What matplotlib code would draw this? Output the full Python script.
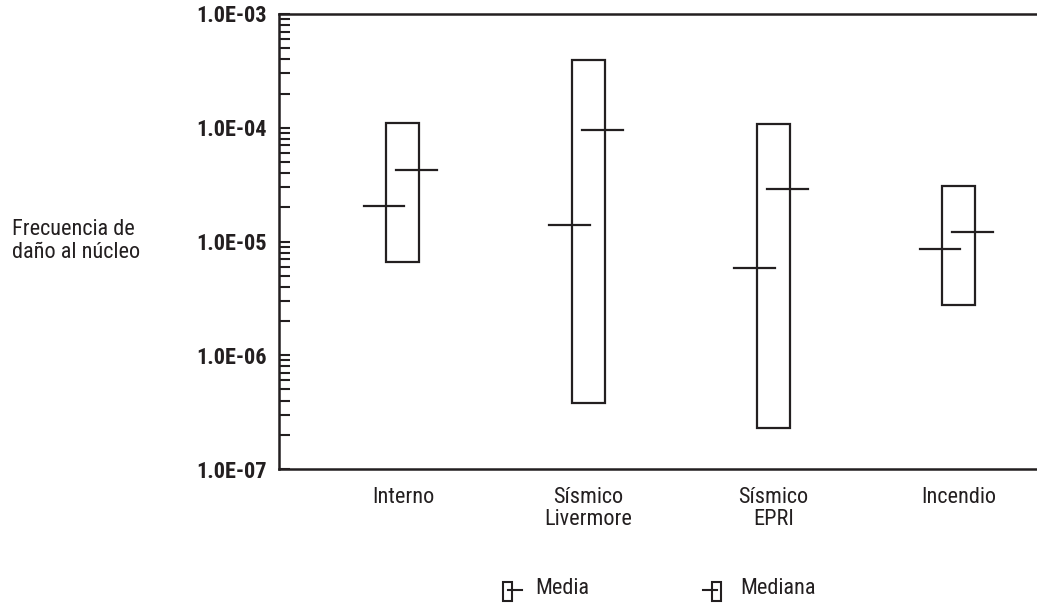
import numpy as np
import matplotlib
matplotlib.use("Agg")
import matplotlib.pyplot as plt
from matplotlib import font_manager
from matplotlib.patches import Rectangle
from matplotlib.lines import Line2D
from matplotlib.ticker import LogLocator, NullFormatter, FixedLocator

# data
categorias = ["Interno", "Sísmico\nLivermore", "Sísmico\nEPRI", "Incendio"]
limite_sup = [1.09e-4, 3.94e-4, 1.08e-4, 3.08e-5]
limite_inf = [6.6e-6, 3.78e-7, 2.28e-7, 2.77e-6]
media = [2.05e-5, 1.41e-5, 5.81e-6, 8.54e-6]
mediana = [4.28e-5, 9.55e-5, 2.91e-5, 1.21e-5]
yticks = [1e-7, 1e-6, 1e-5, 1e-4, 1e-3]
ytick_labels = ["1.0E-07", "1.0E-06", "1.0E-05", "1.0E-04", "1.0E-03"]

# condensed grotesque if there is one, else plain sans
names = {f.name for f in font_manager.fontManager.ttflist}
fam = "Liberation Sans"
for cand in ["Roboto Condensed", "Archivo Narrow", "Liberation Sans Narrow", "Arial Narrow"]:
    if cand in names:
        fam = cand
        break
plt.rcParams["font.family"] = [fam, "DejaVu Sans"]
lc = "#231f20"
fs = 16 if fam != "Liberation Sans" else 13.5
fw = "normal"

fig = plt.figure(figsize=(10.37, 6.05), dpi=100)
ax = fig.add_axes([279/1037, 136/605, 1 - 279/1037, 455/605])

ancho = 0.178
for i in range(len(categorias)):
    x0 = i - ancho/2
    ax.add_patch(Rectangle((x0, limite_inf[i]), ancho, limite_sup[i] - limite_inf[i],
                           fill=False, lw=1.6, ec=lc))
    ax.plot([x0 - 0.124, x0 + 0.097], [media[i], media[i]], color=lc, lw=1.6)
    ax.plot([x0 + ancho - 0.124, x0 + ancho + 0.097], [mediana[i], mediana[i]],
            color=lc, lw=1.6)

ax.set_yscale("log")
ax.set_ylim(1e-7, 1e-3)
ax.set_xlim(-0.669, 3.421)
ax.yaxis.set_major_locator(FixedLocator(yticks))
ax.set_yticklabels(ytick_labels, fontsize=fs, fontweight=800, color=lc)
ax.yaxis.set_minor_locator(LogLocator(base=10, subs=np.arange(2, 10)))
ax.yaxis.set_minor_formatter(NullFormatter())
ax.tick_params(axis="y", which="both", direction="in", length=8, width=1.5,
               color=lc, pad=8.5)
ax.set_xticks(range(len(categorias)))
ax.set_xticklabels(categorias, fontsize=fs, fontweight=fw, color=lc, va="top",
                   linespacing=1.05)
ax.tick_params(axis="x", length=0, pad=13)

ax.spines["right"].set_visible(False)
for s in ["left", "top", "bottom"]:
    ax.spines[s].set_linewidth(1.8)
    ax.spines[s].set_color(lc)

fig.text(12/1037, 1 - 241/605, "Frecuencia de\ndaño al núcleo", fontsize=fs,
         fontweight=fw, ha="left", va="center", color=lc, linespacing=1.1)

# legend glyphs
def px(x, y):
    return x/1037, 1 - y/605

bx, by = px(503, 601)
fig.add_artist(Rectangle((bx, by), 9/1037, 19/605, fill=False, lw=1.5, ec=lc,
                         transform=fig.transFigure))
fig.add_artist(Line2D([508/1037, 522/1037], [1 - 590/605] * 2, lw=1.5, color=lc,
                      transform=fig.transFigure))
fig.text(535/1037, 1 - 589/605, "Media", fontsize=fs, fontweight=fw,
         ha="left", va="center", color=lc)

bx, by = px(712, 601)
fig.add_artist(Rectangle((bx, by), 9/1037, 19/605, fill=False, lw=1.5, ec=lc,
                         transform=fig.transFigure))
fig.add_artist(Line2D([703/1037, 717/1037], [1 - 590/605] * 2, lw=1.5, color=lc,
                      transform=fig.transFigure))
fig.text(740/1037, 1 - 589/605, "Mediana", fontsize=fs, fontweight=fw,
         ha="left", va="center", color=lc)

fig.savefig("out.png", dpi=100)
